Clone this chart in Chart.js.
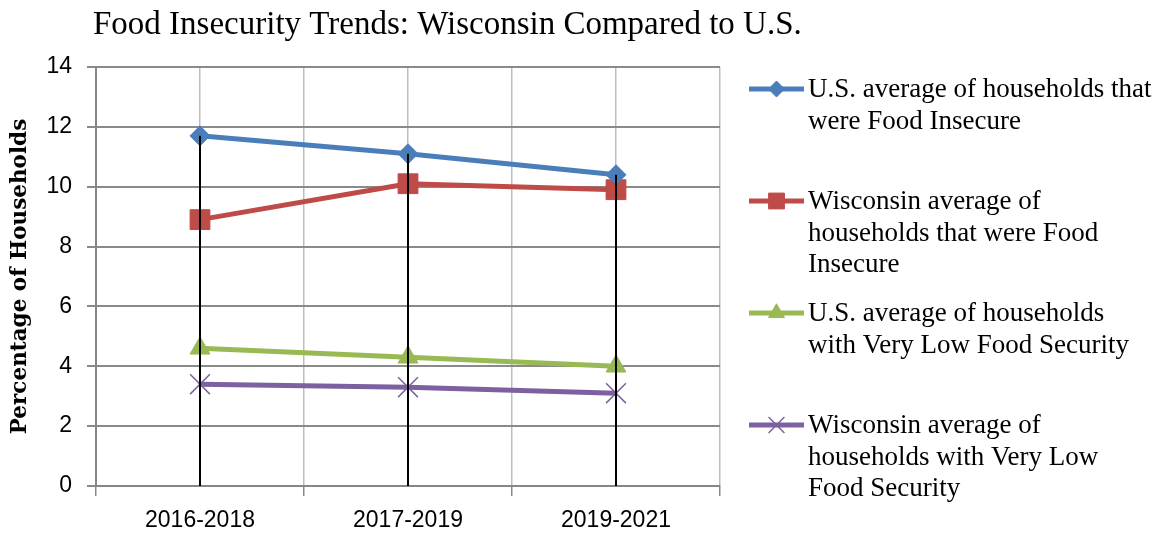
<!DOCTYPE html>
<html>
<head>
<meta charset="utf-8">
<title>Food Insecurity Trends</title>
<script src="https://cdn.jsdelivr.net/npm/chart.js@4"></script>
<style>
  html, body { margin: 0; padding: 0; background: #fff; }
  #wrap { width: 1175px; height: 534px; }
</style>
</head>
<body>
<div id="wrap"><canvas id="foodChart" width="1175" height="534"></canvas></div>
<script>
const chartTitle = "Food Insecurity Trends: Wisconsin Compared to U.S.";
const categories = ["2016-2018", "2017-2019", "2019-2021"];
const usInsecure = [11.7, 11.1, 10.4];
const wiInsecure = [8.9, 10.1, 9.9];
const usVeryLow = [4.6, 4.3, 4.0];
const wiVeryLow = [3.4, 3.3, 3.1];
const seriesLabels = [
  ["U.S. average of households that", "were Food Insecure"],
  ["Wisconsin average of", "households that were Food", "Insecure"],
  ["U.S. average of households", "with Very Low Food Security"],
  ["Wisconsin average of", "households with Very Low", "Food Security"],
];

const serif = "'Liberation Serif', 'DejaVu Serif', serif";
const sans = "'Liberation Sans', Arial, sans-serif";

// black drop lines from the highest point of each category down to the axis
const dropLines = {
  id: "dropLines",
  afterDatasetsDraw(chart) {
    const { ctx, scales } = chart;
    const x = scales.x, y = scales.y;
    ctx.save();
    ctx.strokeStyle = "#000";
    ctx.lineWidth = 2;
    categories.forEach((c, i) => {
      const top = Math.max(...chart.data.datasets.map(d => d.data[i]));
      const px = Math.round(x.getPixelForValue(i));
      ctx.beginPath();
      ctx.moveTo(px, y.getPixelForValue(top));
      ctx.lineTo(px, y.getPixelForValue(0));
      ctx.stroke();
    });
    ctx.restore();
  },
};

// title (left aligned, may run past the plot) and legend on the right with wrapped labels
const sideLegend = {
  id: "sideLegend",
  afterDraw(chart) {
    const { ctx, chartArea } = chart;
    ctx.save();
    ctx.fillStyle = "#000";
    ctx.font = "33px " + serif;
    ctx.textBaseline = "middle";
    ctx.textAlign = "left";
    ctx.fillText(chartTitle, chartArea.left - 3, 25);

    const lineX0 = chartArea.right + 29;
    const lineX1 = chartArea.right + 84;
    const textX = chartArea.right + 88;
    const lineH = 31.5;
    const step = 112;
    ctx.font = "27px " + serif;
    chart.data.datasets.forEach((ds, i) => {
      const yy = chartArea.top + 22 + i * step;
      ctx.strokeStyle = ds.borderColor;
      ctx.lineWidth = 5;
      ctx.beginPath();
      ctx.moveTo(lineX0, yy);
      ctx.lineTo(lineX1, yy);
      ctx.stroke();
      ctx.fillStyle = ds.pointBackgroundColor;
      ctx.strokeStyle = ds.pointBorderColor;
      ctx.lineWidth = ds.pointBorderWidth;
      Chart.helpers.drawPoint(ctx, {
        pointStyle: ds.pointStyle,
        radius: ds.pointRadius * 0.8,
        borderWidth: ds.pointBorderWidth,
        rotation: 0,
      }, (lineX0 + lineX1) / 2, yy);
      ctx.fillStyle = "#000";
      seriesLabels[i].forEach((t, k) => ctx.fillText(t, textX, yy + 1 + k * lineH));
    });
    ctx.restore();
  },
};

function series(label, data, color, style, radius, pbw) {
  return {
    label,
    data,
    borderColor: color,
    backgroundColor: color,
    borderWidth: 5,
    pointStyle: style,
    pointRadius: radius,
    pointHoverRadius: radius,
    pointBackgroundColor: color,
    pointBorderColor: color,
    pointBorderWidth: pbw,
    tension: 0,
  };
}

new Chart(document.getElementById("foodChart"), {
  type: "line",
  data: {
    labels: categories,
    datasets: [
      series(seriesLabels[0].join(" "), usInsecure, "#4a7ebb", "rectRot", 10, 1),
      series(seriesLabels[1].join(" "), wiInsecure, "#be4b48", "rect", 14, 1),
      series(seriesLabels[2].join(" "), usVeryLow, "#98b954", "triangle", 11.5, 1),
      series(seriesLabels[3].join(" "), wiVeryLow, "#7d60a0", "crossRot", 14, 1.5),
    ],
  },
  options: {
    responsive: false,
    animation: false,
    layout: { padding: { left: 0, right: 455, top: 67, bottom: 0 } },
    plugins: {
      legend: { display: false },
      tooltip: { enabled: false },
      title: { display: false },
    },
    scales: {
      x: {
        type: "category",
        offset: true,
        afterFit: s => { s.height = 48; },
        grid: {
          offset: true,
          color: c => (c.index === categories.length ? "#8a8a8a" : "#bdbdbd"),
          lineWidth: c => (c.index === categories.length ? 2 : 1.5),
          tickLength: 10,
          tickColor: "#8a8a8a",
        },
        border: { color: "#868686", width: 2 },
        ticks: { color: "#000", font: { family: sans, size: 23 }, padding: 11 },
      },
      x2: {
        type: "category",
        labels: categories,
        position: "bottom",
        offset: true,
        weight: 1,
        afterFit: s => { s.height = 0; },
        grid: { offset: false, color: "#bdbdbd", lineWidth: 1.5, drawTicks: false },
        border: { display: false },
        ticks: { display: false },
      },
      y: {
        min: 0,
        max: 14,
        afterFit: s => { s.width = 96; },
        ticks: { stepSize: 2, color: "#000", font: { family: sans, size: 23 }, padding: 15 },
        grid: { color: "#8a8a8a", lineWidth: 2, tickLength: 9 },
        border: { color: "#868686", width: 2 },
        title: {
          display: true,
          text: "Percentage of Households",
          color: "#000",
          font: { family: "'DejaVu Serif', serif", size: 21.5, weight: "bold", lineHeight: 1.2 },
          padding: { top: 8, bottom: 0 },
        },
      },
    },
  },
  plugins: [dropLines, sideLegend],
});
</script>
</body>
</html>
